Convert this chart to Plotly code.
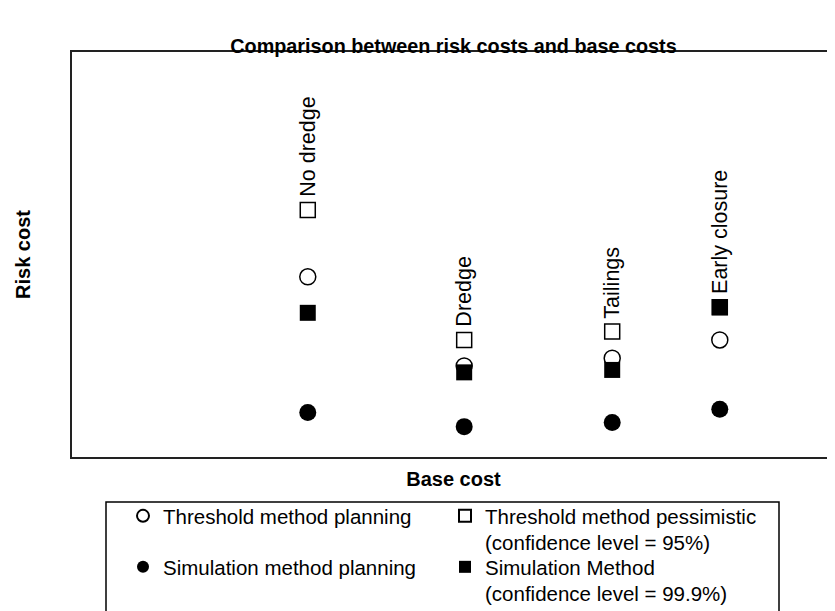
import plotly.graph_objects as go

# ---- data (arbitrary units) ----
scenarios = ["No dredge", "Dredge", "Tailings", "Early closure"]
base_cost = [30.9, 51.4, 70.8, 84.9]

threshold_planning = [44.5, 22.5, 24.4, 28.9]      # open circles
threshold_pessimistic = [61.0, 28.9, 31.0, 37.0]   # open squares
simulation_planning = [11.0, 7.5, 8.5, 11.8]       # filled circles
simulation_999 = [35.6, 20.9, 21.5, 37.0]          # filled squares

series_names = [
    "Threshold method planning",
    "Threshold method pessimistic<br>(confidence level = 95%)",
    "Simulation method planning",
    "Simulation Method<br>(confidence level = 99.9%)",
]

FONT = "Liberation Sans, Arial, Helvetica, sans-serif"

# ---- geometry (screen pixels; the page body adds an 8 px offset) ----
OFF = 8
FIG_W, FIG_H = 835 - OFF, 611 - OFF
PL, PR, PT, PB = 72, 835, 52, 457          # plot frame on screen
PW, PH = PR - PL, PB - PT


def px_x(p):
    return (p - PL) / PW


def px_y(p):
    return (PB - p) / PH


fig = go.Figure()

styles = [
    dict(symbol="circle", color="white", size=16, line=dict(color="black", width=1.5)),
    dict(symbol="square", color="white", size=15, line=dict(color="black", width=1.5)),
    dict(symbol="circle", color="black", size=17, line=dict(color="black", width=0)),
    dict(symbol="square", color="black", size=16, line=dict(color="black", width=0)),
]
series = [threshold_planning, threshold_pessimistic, simulation_planning, simulation_999]
legend_ids = ["legend", "legend2", "legend3", "legend4"]
# legend item anchor: (symbol centre x, first text line centre y) on screen
legend_pos = [(143, 517), (465, 517), (143, 568), (465, 568)]

for name, vals, st, lid in zip(series_names, series, styles, legend_ids):
    fig.add_trace(go.Scatter(
        x=base_cost, y=vals, mode="markers", name=name,
        marker=st, hoverinfo="skip", legend=lid,
    ))

# scenario labels, rotated, above the top-most marker of each scenario
for i, s in enumerate(scenarios):
    top = max(v[i] for v in series)
    fig.add_annotation(
        x=base_cost[i], y=top, xref="x", yref="y", text=s, textangle=-90,
        showarrow=False, xanchor="center", yanchor="bottom", yshift=11,
        font=dict(family=FONT, size=21.5, color="black"),
    )

# legend frame
fig.add_shape(type="rect", xref="paper", yref="paper",
              x0=px_x(106), x1=px_x(779), y0=px_y(502), y1=px_y(640),
              line=dict(color="black", width=1.5), fillcolor="rgba(0,0,0,0)")

legend_layouts = {}
for lid, (sx, sy) in zip(legend_ids, legend_pos):
    legend_layouts[lid] = dict(
        orientation="v", x=px_x(sx - 20), y=px_y(sy - 21),
        xanchor="left", yanchor="top", xref="paper", yref="paper",
        valign="top", itemsizing="constant",
        bgcolor="rgba(0,0,0,0)", borderwidth=0,
        font=dict(family=FONT, size=20.5, color="black"),
        itemclick=False, itemdoubleclick=False,
    )

fig.update_layout(
    width=FIG_W, height=FIG_H,
    margin=dict(l=PL - OFF, r=0, t=PT - OFF, b=FIG_H - (PB - OFF), autoexpand=False),
    plot_bgcolor="white", paper_bgcolor="white",
    font=dict(family=FONT, size=20, color="black"),
    title=dict(text="<b>Comparison between risk costs and base costs</b>",
               x=0.5, xref="paper", y=1 - (46 - OFF) / FIG_H, yref="container",
               xanchor="center", yanchor="middle",
               font=dict(family=FONT, size=19.8, color="black")),
    xaxis=dict(range=[0, 100], showticklabels=False, ticks="", showgrid=False,
               zeroline=False, showline=True, linecolor="#222", linewidth=2,
               mirror=True, automargin=False,
               title=dict(text="<b>Base cost</b>", standoff=14,
                          font=dict(family=FONT, size=20, color="black"))),
    yaxis=dict(range=[0, 100], showticklabels=False, ticks="", showgrid=False,
               zeroline=False, showline=True, linecolor="#222", linewidth=2,
               automargin=False,
               title=dict(text="<b>Risk cost</b>", standoff=34,
                          font=dict(family=FONT, size=20, color="black"))),
    showlegend=True,
    **legend_layouts,
)

fig.write_html("out.html")
